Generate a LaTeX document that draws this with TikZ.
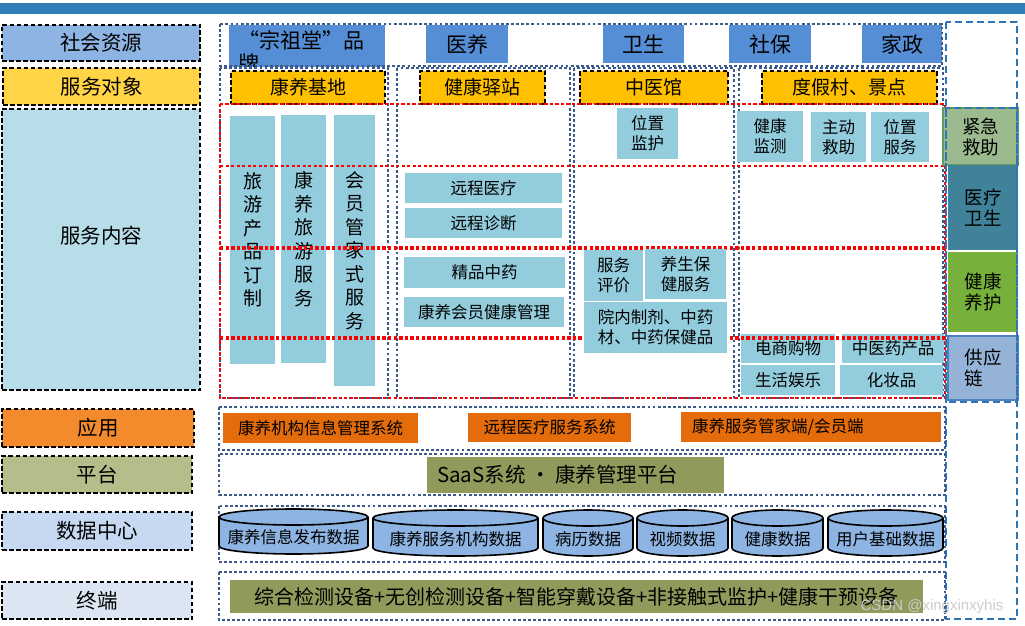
\documentclass[tikz,border=0pt]{standalone}
\usepackage{fontspec}
\setmainfont{Noto Sans CJK SC}
\newfontfamily\wmfont{Liberation Sans}
\definecolor{cBar}{HTML}{2E7EB8}
\definecolor{cSR}{HTML}{8EB4E3}
\definecolor{cFW}{HTML}{FFD447}
\definecolor{cNR}{HTML}{B7DEE8}
\definecolor{cYY}{HTML}{F38B2C}
\definecolor{cPT}{HTML}{B5BD8A}
\definecolor{cSJ}{HTML}{C6D9F1}
\definecolor{cZD}{HTML}{DCE6F2}
\definecolor{cTB}{HTML}{558ED5}
\definecolor{cYel}{HTML}{FFC000}
\definecolor{cLB}{HTML}{93CDDD}
\definecolor{cOrg}{HTML}{E46C0A}
\definecolor{cOlv}{HTML}{8F9A5B}
\definecolor{cDot}{HTML}{3C5A8C}
\definecolor{cDash}{HTML}{2E75B6}
\definecolor{cJJ}{HTML}{9BBB8F}
\definecolor{cJJb}{HTML}{5F9C5B}
\definecolor{cYL}{HTML}{3F8299}
\definecolor{cJK}{HTML}{77B03A}
\definecolor{cGY}{HTML}{95B3D7}
\definecolor{cGYb}{HTML}{4F81BD}
\definecolor{cCyl}{HTML}{8DB4E2}
\newcommand\mybox[7]{\node[base, #6, minimum width={#4-#2}, minimum height={#5-#3}] (#1) at ({(#2+#4)/2},{(#3+#5)/2}) {#7};}
\newcommand\mycyl[6]{%
  \filldraw[cylst] ({(#2+#4)/2},#5-8) ellipse ({(#4-#2)/2} and 8);
  \fill[cCyl] (#2,#3+8) rectangle (#4,#5-8);
  \draw[cylst] (#2,#3+8) -- (#2,#5-8) (#4,#3+8) -- (#4,#5-8);
  \filldraw[cylst] ({(#2+#4)/2},#3+8) ellipse ({(#4-#2)/2} and 8);
  \node[cyltext] (#1) at ({(#2+#4)/2},{(#3+#5)/2+6}) {#6};}
\begin{document}
\begin{tikzpicture}[x=1pt,y=-1pt,
  base/.style={inner sep=0pt, outer sep=0pt, align=center, anchor=center},
  lbl/.style={draw=black, line width=1.8pt, dash pattern=on 4.5pt off 2.5pt, font={\fontsize{20.5}{24}\selectfont}},
  yel/.style={fill=cYel, draw=black, line width=1.8pt, dash pattern=on 4.5pt off 2.5pt, font={\fontsize{19}{23}\selectfont}},
  topb/.style={fill=cTB, font={\fontsize{21}{25}\selectfont}},
  lb/.style={fill=cLB, font={\fontsize{16.5}{20}\selectfont}},
  lbv/.style={fill=cLB, font={\fontsize{19}{23.5}\selectfont}},
  org/.style={fill=cOrg, font={\fontsize{16.5}{20}\selectfont}},
  olv/.style={fill=cOlv, font={\fontsize{20}{23}\selectfont}},
  rc/.style={font={\fontsize{18.5}{21}\selectfont}},
  dotblue/.style={draw=cDot, line width=2.7pt, dash pattern=on 2.8pt off 2.3pt},
  reddot/.style={draw=red, line width=2.6pt, dash pattern=on 3.2pt off 2.3pt},
  reddotb/.style={draw=red, line width=3.2pt, dash pattern=on 3.4pt off 2.2pt},
  bluedash/.style={draw=cDash, line width=2.6pt, dash pattern=on 7pt off 4pt},
  cylst/.style={fill=cCyl, draw=black, line width=1.6pt},
  cyltext/.style={inner sep=0pt, font={\fontsize{16.5}{20}\selectfont}},
]
\useasboundingbox (0,0) rectangle (1025,626);
% top bar
\mybox{bar}{0}{3}{1025}{14}{fill=cBar}{}
% left labels
\mybox{l1}{2}{25}{200}{61}{lbl, fill=cSR}{社会资源}
\mybox{l2}{3}{68}{200}{105}{lbl, fill=cFW}{服务对象}
\mybox{l3}{2}{109}{200}{390}{lbl, fill=cNR}{}
\node[base, font={\fontsize{20.5}{24}\selectfont}] (l3t) at (101,236) {服务内容};
\mybox{l4}{2}{409}{194}{447}{lbl, fill=cYY}{应用}
\mybox{l5}{2}{456}{192}{493}{lbl, fill=cPT}{平台}
\mybox{l6}{2}{512}{192}{550}{lbl, fill=cSJ}{数据中心}
\mybox{l7}{2}{582}{192}{619}{lbl, fill=cZD}{终端}
% top row
\mybox{tb1}{229}{25}{385}{67}{topb}{}
\begin{scope}
\clip (229,25) rectangle (385,67);
\node[inner sep=0pt, anchor=north west, align=left, font={\fontsize{21}{23}\selectfont}] (tb1t) at (238,30) {“宗祖堂”品\\牌};
\end{scope}
\mybox{tb2}{426}{25}{508}{63}{topb}{医养}
\mybox{tb3}{603}{25}{684}{63}{topb}{卫生}
\mybox{tb4}{729}{25}{811}{63}{topb}{社保}
\mybox{tb5}{862}{25}{942}{63}{topb}{家政}
\draw[dotblue] (220,24) rectangle (942,66);
% column containers
\draw[dotblue] (220,68) rectangle (388,398);
\draw[dotblue] (397,68) rectangle (570,398);
\draw[dotblue] (574,68) rectangle (734,398);
\draw[dotblue] (739,68) rectangle (943,398);
% yellow
\mybox{y1}{231}{71}{385}{104}{yel}{康养基地}
\mybox{y2}{420}{71}{545}{104}{yel}{健康驿站}
\mybox{y3}{580}{71}{728}{104}{yel}{中医馆}
\mybox{y4}{762}{71}{937}{104}{yel}{度假村、景点}
% col1 vertical boxes
\mybox{v1}{230}{116}{275}{364}{lbv}{旅\\游\\产\\品\\订\\制}
\mybox{v2}{281}{115}{326}{363}{lbv}{康\\养\\旅\\游\\服\\务}
\mybox{v3}{334}{115}{375}{386}{lbv}{会\\员\\管\\家\\式\\服\\务}
% col4 bottom boxes
\mybox{b12}{741}{334}{835}{363}{lb}{电商购物}
\mybox{b13}{842}{334}{944}{363}{lb}{中医药产品}
\mybox{b14}{741}{365}{835}{395}{lb}{生活娱乐}
\mybox{b15}{840}{365}{943}{395}{lb}{化妆品}
% red grid
\draw[reddot] (220,104) rectangle (945,398);
\draw[reddot] (220,166) -- (945,166);
\draw[reddotb] (220,248) -- (945,248);
\draw[reddotb] (220,338) -- (945,338);
% col2
\mybox{b1}{405}{173}{562}{203}{lb}{远程医疗}
\mybox{b2}{405}{208}{562}{238}{lb}{远程诊断}
\mybox{b3}{404}{257}{565}{288}{lb}{精品中药}
\mybox{b4}{404}{297}{564}{327}{lb}{康养会员健康管理}
% col3
\mybox{b5}{617}{108}{678}{159}{lb}{位置\\监护}
\mybox{b6}{584}{250}{643}{301}{lb}{服务\\评价}
\mybox{b7}{645}{249}{726}{299}{lb}{养生保\\健服务}
\mybox{b8}{584}{302}{727}{353}{lb}{院内制剂、中药\\材、中药保健品}
% col4 top
\mybox{b9}{737}{111}{803}{162}{lb}{健康\\监测}
\mybox{b10}{811}{112}{866}{162}{lb}{主动\\救助}
\mybox{b11}{871}{112}{929}{162}{lb}{位置\\服务}
% right column
\mybox{r1}{943}{108}{1018}{165}{rc, fill=cJJ, draw=cJJb, line width=2pt}{紧急\\救助}
\mybox{r2}{948}{165}{1018}{250}{rc, fill=cYL}{医疗\\卫生}
\mybox{r3}{948}{252}{1018}{332}{rc, fill=cJK}{健康\\养护}
\mybox{r4}{948}{336}{1018}{400}{rc, fill=cGY, draw=cGYb, line width=1.5pt, align=left}{供应\\链}
\draw[bluedash] (946,22) rectangle (1017,619);
\draw[bluedash] (946,108) rectangle (1017,402);
% application
\draw[dotblue] (219,407) rectangle (945,450);
\mybox{o1}{223}{413}{418}{443}{org}{康养机构信息管理系统}
\mybox{o2}{468}{413}{631}{442}{org}{远程医疗服务系统}
\mybox{o3}{681}{412}{941}{442}{org}{}
\node[inner sep=0pt, anchor=west, font={\fontsize{16.5}{20}\selectfont}] (o3t) at (692,427) {康养服务管家端/会员端};
% platform
\draw[dotblue] (219,454) rectangle (945,495);
\mybox{p1}{427}{457}{724}{493}{olv}{}
\node[inner sep=0pt, anchor=west, font={\fontsize{20.5}{23}\selectfont}] (p1t) at (437,475) {SaaS系统 • 康养管理平台};
% data center
\draw[dotblue] (219,506) rectangle (945,562);
\mycyl{d1}{219}{509}{368}{554}{康养信息发布数据}
\mycyl{d2}{373}{510}{538}{556}{康养服务机构数据}
\mycyl{d3}{543}{510}{633}{556}{病历数据}
\mycyl{d4}{637}{510}{728}{556}{视频数据}
\mycyl{d5}{732}{510}{823}{556}{健康数据}
\mycyl{d6}{828}{510}{943}{556}{用户基础数据}
% terminal
\draw[dotblue] (219,572) rectangle (945,620);
\mybox{t1}{230}{580}{923}{613}{olv}{综合检测设备+无创检测设备+智能穿戴设备+非接触式监护+健康干预设备}
% watermark
\node[inner sep=0pt, text=gray!40, font={\wmfont\fontsize{15}{18}\selectfont}] (wm) at (932,607) {CSDN @xingxinxyhis};
\end{tikzpicture}
\end{document}
